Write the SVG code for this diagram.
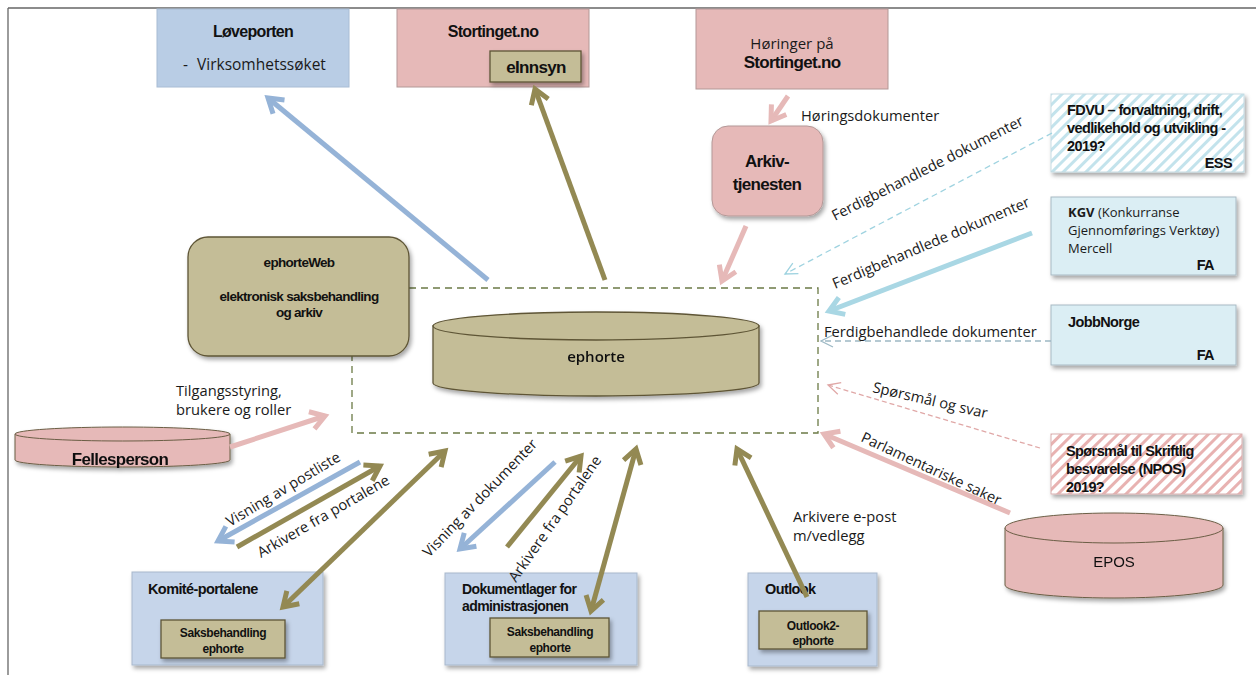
<svg xmlns="http://www.w3.org/2000/svg" width="1256" height="675" viewBox="0 0 1256 675">
<style>
.lbl{font-family:"Open Sans","Liberation Sans",sans-serif;font-size:14.7px;fill:#1a1a1a}
.bt{font-family:"Liberation Sans",Arial,sans-serif;font-weight:bold;font-size:14.5px;letter-spacing:-0.6px;fill:#111}
.tt{font-family:"Liberation Sans",Arial,sans-serif;font-weight:bold;font-size:16px;letter-spacing:-0.7px;fill:#111}
.rt{font-family:"Open Sans","Liberation Sans",sans-serif;font-size:13px;fill:#1a1a1a}
.sm{font-family:"Liberation Sans",Arial,sans-serif;font-weight:bold;font-size:12px;letter-spacing:-0.4px;fill:#111}
.olivefill{fill:#c4bd97;stroke:#5e5536;stroke-width:1.3}
.pinkfill{fill:#e6b9b8;stroke:#b39897;stroke-width:1}
.bluefill{fill:#c6d5ea;stroke:#a8b8cc;stroke-width:1}
.cyanfill{fill:#dbeef4;stroke:#a8bac4;stroke-width:1}
.thick{fill:none;stroke-width:5;stroke-linecap:butt}
.olive{stroke:#938953}
.blue{stroke:#95b3d7}
.pink{stroke:#e6b9b8}
.kgv{stroke:#a9d7e4}
</style>
<defs>
<filter id="sh" x="-10%" y="-10%" width="130%" height="140%"><feDropShadow dx="2" dy="3" stdDeviation="2" flood-color="#000" flood-opacity="0.35"/></filter>
<pattern id="hatchBlue" patternUnits="userSpaceOnUse" width="8" height="8" patternTransform="rotate(45)"><rect width="8" height="8" fill="#ffffff"/><rect x="0" y="0" width="3" height="8" fill="#c3e3ec"/></pattern>
<pattern id="hatchPink" patternUnits="userSpaceOnUse" width="8" height="8" patternTransform="rotate(45)"><rect width="8" height="8" fill="#ffffff"/><rect x="0" y="0" width="3" height="8" fill="#e8b2b1"/></pattern>
<marker id="aOlive" markerUnits="userSpaceOnUse" markerWidth="20" markerHeight="20" viewBox="0 0 20 20" refX="17" refY="10" orient="auto" overflow="visible"><path d="M3,1 L17,10 L3,19" fill="none" stroke="#938953" stroke-width="5"/></marker>
<marker id="aOliveS" markerUnits="userSpaceOnUse" markerWidth="20" markerHeight="20" viewBox="0 0 20 20" refX="3" refY="10" orient="auto" overflow="visible"><path d="M17,1 L3,10 L17,19" fill="none" stroke="#938953" stroke-width="5"/></marker>
<marker id="aBlue" markerUnits="userSpaceOnUse" markerWidth="20" markerHeight="20" viewBox="0 0 20 20" refX="17" refY="10" orient="auto" overflow="visible"><path d="M3,1 L17,10 L3,19" fill="none" stroke="#95b3d7" stroke-width="5"/></marker>
<marker id="aPink" markerUnits="userSpaceOnUse" markerWidth="20" markerHeight="20" viewBox="0 0 20 20" refX="17" refY="10" orient="auto" overflow="visible"><path d="M3,1 L17,10 L3,19" fill="none" stroke="#e6b9b8" stroke-width="5"/></marker>
<marker id="aKgv" markerUnits="userSpaceOnUse" markerWidth="20" markerHeight="20" viewBox="0 0 20 20" refX="17" refY="10" orient="auto" overflow="visible"><path d="M3,1 L17,10 L3,19" fill="none" stroke="#a9d7e4" stroke-width="5"/></marker>
<marker id="tCyan" markerUnits="userSpaceOnUse" markerWidth="14" markerHeight="14" viewBox="0 0 14 14" refX="13" refY="7" orient="auto" overflow="visible"><path d="M1,1 L13,7 L1,13" fill="none" stroke="#9fd3e0" stroke-width="1.3"/></marker>
<marker id="tGray" markerUnits="userSpaceOnUse" markerWidth="14" markerHeight="14" viewBox="0 0 14 14" refX="13" refY="7" orient="auto" overflow="visible"><path d="M1,1 L13,7 L1,13" fill="none" stroke="#9db8c4" stroke-width="1.3"/></marker>
<marker id="tPink" markerUnits="userSpaceOnUse" markerWidth="14" markerHeight="14" viewBox="0 0 14 14" refX="13" refY="7" orient="auto" overflow="visible"><path d="M1,1 L13,7 L1,13" fill="none" stroke="#e0a8a7" stroke-width="1.3"/></marker>
</defs>

<rect width="1256" height="675" fill="#ffffff"/>
<g id="frame" stroke="#666" stroke-width="1.3" fill="none">
<line x1="8" y1="8" x2="1256" y2="8"/>
<line x1="8" y1="8" x2="8" y2="675"/>
</g>

<g id="ephorte-area">
<path d="M409,288 L818,288 L818,433 L352,433 L352,356" fill="none" stroke="#6b7a45" stroke-width="1.3" stroke-dasharray="7,5"/>
</g>

<g id="loveporten">
<rect x="157" y="9" width="192" height="78" fill="#b9cde5" stroke="#a8bcd4" stroke-width="1"/>
<text class="tt" x="253" y="37" text-anchor="middle">Løveporten</text>
<text class="rt" x="183" y="70" style="font-size:15.5px">-</text>
<text class="rt" x="197" y="70" style="font-size:15.5px">Virksomhetssøket</text>
</g>

<g id="stortinget">
<rect x="397" y="9" width="192" height="78" class="pinkfill"/>
<text class="tt" x="493" y="37" text-anchor="middle">Stortinget.no</text>
</g>
<g id="einnsyn">
<rect x="490" y="51" width="91" height="31" class="olivefill" filter="url(#sh)"/>
<text class="tt" x="536" y="73" text-anchor="middle" style="font-size:17px">eInnsyn</text>
</g>

<g id="horinger">
<rect x="696" y="9" width="192" height="80" class="pinkfill"/>
<text class="rt" x="792" y="49" text-anchor="middle" style="font-size:15px">Høringer på</text>
<text class="tt" x="792" y="68" text-anchor="middle" style="font-size:17px">Stortinget.no</text>
</g>

<g id="arkivtjenesten">
<rect x="712" y="126" width="111" height="90" rx="16" class="pinkfill" filter="url(#sh)"/>
<text class="tt" x="767" y="167" text-anchor="middle" style="font-size:17px">Arkiv-</text>
<text class="tt" x="767" y="190" text-anchor="middle" style="font-size:17px">tjenesten</text>
</g>

<g id="ephorteweb">
<rect x="188" y="237" width="221" height="119" rx="20" class="olivefill" filter="url(#sh)"/>
<text class="bt" x="299" y="267" text-anchor="middle" style="font-size:13.5px;letter-spacing:-0.7px">ephorteWeb</text>
<text class="bt" x="299" y="301" text-anchor="middle" style="font-size:13.5px;letter-spacing:-0.7px">elektronisk saksbehandling</text>
<text class="bt" x="299" y="317" text-anchor="middle" style="font-size:13.5px;letter-spacing:-0.7px">og arkiv</text>
</g>

<g id="ephorte" filter="url(#sh)">
<path d="M433,326 L433,383 A163,13 0 0 0 759,383 L759,326 Z" class="olivefill"/>
<ellipse cx="596" cy="326" rx="163" ry="14" class="olivefill"/>
<text x="596" y="362" text-anchor="middle" font-family="'Open Sans','Liberation Sans',sans-serif" font-size="15" font-weight="600" fill="#111">ephorte</text>
</g>

<g id="fellesperson" filter="url(#sh)">
<path d="M15,434 L15,460 A107.5,7 0 0 0 230,460 L230,434 Z" fill="#e6b9b8" stroke="#6b5e45" stroke-width="1"/>
<ellipse cx="122.5" cy="434" rx="107.5" ry="7" fill="#e6b9b8" stroke="#6b5e45" stroke-width="1"/>
<text class="tt" x="120" y="465" text-anchor="middle" style="font-size:17px">Fellesperson</text>
</g>

<g id="fdvu">
<rect x="1051" y="94" width="193" height="78" fill="url(#hatchBlue)" stroke="#c5dbe3" stroke-width="1" filter="url(#sh)"/>
<text class="bt" x="1067" y="115">FDVU – forvaltning, drift,</text>
<text class="bt" x="1067" y="133">vedlikehold og utvikling -</text>
<text class="bt" x="1067" y="151">2019?</text>
<text class="bt" x="1232" y="168" text-anchor="end">ESS</text>
</g>

<g id="kgv">
<rect x="1051" y="197" width="185" height="78" class="cyanfill" filter="url(#sh)"/>
<text class="rt" x="1068" y="217"><tspan font-weight="bold">KGV</tspan> (Konkurranse</text>
<text class="rt" x="1068" y="235">Gjennomførings Verktøy)</text>
<text class="rt" x="1068" y="253">Mercell</text>
<text class="bt" x="1214" y="270" text-anchor="end">FA</text>
</g>

<g id="jobbnorge">
<rect x="1051" y="305" width="185" height="60" class="cyanfill" filter="url(#sh)"/>
<text class="bt" x="1068" y="327">JobbNorge</text>
<text class="bt" x="1214" y="360" text-anchor="end">FA</text>
</g>

<g id="sporsmal">
<rect x="1051" y="434" width="191" height="60" fill="url(#hatchPink)" stroke="#d9b0b0" stroke-width="1" filter="url(#sh)"/>
<text class="bt" x="1066" y="456">Spørsmål til Skriftlig</text>
<text class="bt" x="1066" y="474">besvarelse (NPOS)</text>
<text class="bt" x="1066" y="492">2019?</text>
</g>

<g id="epos" filter="url(#sh)">
<path d="M1005,528 L1005,585 A109,13 0 0 0 1223,585 L1223,528 Z" fill="#e6b9b8" stroke="#6b5e45" stroke-width="1"/>
<ellipse cx="1114" cy="528" rx="109" ry="15" fill="#e6b9b8" stroke="#6b5e45" stroke-width="1"/>
<text x="1114" y="567" text-anchor="middle" font-family="'Liberation Sans',Arial,sans-serif" font-size="15" fill="#111">EPOS</text>
</g>

<g id="komite">
<rect x="132" y="572" width="191" height="93" class="bluefill" filter="url(#sh)"/>
<text class="bt" x="148" y="594">Komité-portalene</text>
<rect x="161" y="620" width="124" height="38" class="olivefill" filter="url(#sh)"/>
<text class="sm" x="223" y="637" text-anchor="middle">Saksbehandling</text>
<text class="sm" x="223" y="653" text-anchor="middle">ephorte</text>
</g>

<g id="dokumentlager">
<rect x="445" y="573" width="192" height="92" class="bluefill" filter="url(#sh)"/>
<text class="bt" x="462" y="594" style="font-size:14px">Dokumentlager for</text>
<text class="bt" x="462" y="611" style="font-size:14px">administrasjonen</text>
<rect x="490" y="618" width="119" height="39" class="olivefill" filter="url(#sh)"/>
<text class="sm" x="550" y="636" text-anchor="middle">Saksbehandling</text>
<text class="sm" x="550" y="652" text-anchor="middle">ephorte</text>
</g>

<g id="outlook">
<rect x="748" y="573" width="129" height="93" class="bluefill" filter="url(#sh)"/>
<text class="bt" x="765" y="594">Outlook</text>
<rect x="759" y="611" width="108" height="38" class="olivefill" filter="url(#sh)"/>
<text class="sm" x="813" y="630" text-anchor="middle">Outlook2-</text>
<text class="sm" x="813" y="645" text-anchor="middle">ephorte</text>
</g>

<g id="connectors">
<line x1="488" y1="280" x2="268" y2="98" class="thick blue" marker-end="url(#aBlue)"/>
<line x1="605" y1="280" x2="535" y2="89" class="thick olive" marker-end="url(#aOlive)"/>
<line x1="788" y1="96" x2="771" y2="121" class="thick pink" marker-end="url(#aPink)"/>
<line x1="746" y1="226" x2="722" y2="281" class="thick pink" marker-end="url(#aPink)"/>
<line x1="230" y1="447" x2="325" y2="416" class="thick pink" marker-end="url(#aPink)"/>
<line x1="1052" y1="133" x2="785" y2="274" fill="none" stroke="#9fd3e0" stroke-width="1.3" stroke-dasharray="6,4" marker-end="url(#tCyan)"/>
<line x1="1032" y1="233" x2="829" y2="311" class="thick kgv" marker-end="url(#aKgv)"/>
<line x1="1051" y1="341" x2="821" y2="341" fill="none" stroke="#9db8c4" stroke-width="1.3" stroke-dasharray="6,4" marker-end="url(#tGray)"/>
<line x1="1040" y1="448" x2="828" y2="385" fill="none" stroke="#e0a8a7" stroke-width="1.3" stroke-dasharray="5,3" marker-end="url(#tPink)"/>
<line x1="1010" y1="513" x2="824" y2="434" class="thick pink" marker-end="url(#aPink)"/>
<line x1="360" y1="462" x2="218" y2="541" class="thick blue" marker-end="url(#aBlue)"/>
<line x1="237" y1="547" x2="380" y2="466" class="thick olive" marker-end="url(#aOlive)"/>
<line x1="283" y1="607" x2="445" y2="451" class="thick olive" marker-start="url(#aOliveS)" marker-end="url(#aOlive)"/>
<line x1="555" y1="462" x2="460" y2="549" class="thick blue" marker-end="url(#aBlue)"/>
<line x1="507" y1="547" x2="581" y2="456" class="thick olive" marker-end="url(#aOlive)"/>
<line x1="591" y1="611" x2="636" y2="449" class="thick olive" marker-start="url(#aOliveS)" marker-end="url(#aOlive)"/>
<line x1="807" y1="597" x2="737" y2="449" class="thick olive" marker-end="url(#aOlive)"/>
</g>

<g id="labels">
<text class="lbl" x="801" y="121">Høringsdokumenter</text>
<text class="lbl" transform="translate(835,221) rotate(-27)">Ferdigbehandlede dokumenter</text>
<text class="lbl" transform="translate(835,289) rotate(-23)">Ferdigbehandlede dokumenter</text>
<text class="lbl" x="824" y="337">Ferdigbehandlede dokumenter</text>
<text class="lbl" transform="translate(872,392) rotate(13)">Spørsmål og svar</text>
<text class="lbl" transform="translate(860,441) rotate(25)">Parlamentariske saker</text>
<text class="lbl" x="176" y="396">Tilgangsstyring,</text>
<text class="lbl" x="176" y="415">brukere og roller</text>
<text class="lbl" transform="translate(230,527) rotate(-31)">Visning av postliste</text>
<text class="lbl" transform="translate(261,558) rotate(-30)">Arkivere fra portalene</text>
<text class="lbl" transform="translate(429,558) rotate(-46)">Visning av dokumenter</text>
<text class="lbl" transform="translate(516,583) rotate(-55)">Arkivere fra portalene</text>
<text class="lbl" x="793" y="522">Arkivere e-post</text>
<text class="lbl" x="793" y="541">m/vedlegg</text>
</g>
</svg>
